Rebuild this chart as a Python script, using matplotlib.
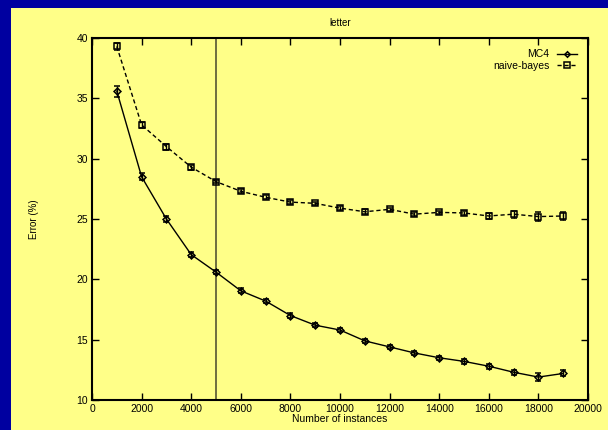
import numpy as np
import matplotlib
matplotlib.use("Agg")
import matplotlib.pyplot as plt
from matplotlib.patches import Rectangle

# data
sizes = [1000, 2000, 3000, 4000, 5000, 6000, 7000, 8000, 9000, 10000,
         11000, 12000, 13000, 14000, 15000, 16000, 17000, 18000, 19000]
mc4_err = [35.6, 28.5, 25.0, 22.05, 20.6, 19.05, 18.2, 17.0, 16.2, 15.8,
           14.9, 14.4, 13.9, 13.5, 13.2, 12.8, 12.3, 11.9, 12.2]
mc4_sd = [0.45, 0.3, 0.25, 0.2, 0.15, 0.2, 0.2, 0.2, 0.15, 0.15,
          0.15, 0.15, 0.15, 0.15, 0.2, 0.2, 0.2, 0.3, 0.25]
nb_err = [39.3, 32.8, 31.0, 29.3, 28.1, 27.3, 26.8, 26.4, 26.3, 25.9,
          25.6, 25.8, 25.4, 25.55, 25.5, 25.25, 25.4, 25.2, 25.25]
nb_sd = [0.3, 0.25, 0.25, 0.2, 0.15, 0.15, 0.15, 0.15, 0.15, 0.15,
         0.2, 0.15, 0.15, 0.15, 0.2, 0.25, 0.3, 0.35, 0.3]
cutoff = 5000

plt.rcParams['font.family'] = ['Liberation Sans', 'DejaVu Sans']

yellow = "#ffff88"
blue = "#0000a0"

fig = plt.figure(figsize=(6.08, 4.30), dpi=100, facecolor=blue)
fig.add_artist(Rectangle((11 / 608, 0), 1, 1 - 8 / 430, transform=fig.transFigure,
                         facecolor=yellow, edgecolor="none", zorder=-5))

ax = fig.add_axes([92 / 608, 1 - 400 / 430, 496 / 608, 362 / 430])
ax.set_facecolor(yellow)

ax.axvline(cutoff, color="#555533", lw=1.2, zorder=1)

mc4 = ax.errorbar(sizes, mc4_err, yerr=mc4_sd, color="black", lw=1.0, ls="-",
                  marker="D", ms=3.5, mfc="none", mew=1.1, capsize=2.5,
                  elinewidth=1.0, zorder=3)
nb = ax.errorbar(sizes, nb_err, yerr=nb_sd, color="black", lw=1.0, ls=(0, (3, 2)),
                 marker="s", ms=5, mfc="none", mew=1.1, capsize=2.5,
                 elinewidth=1.0, zorder=3)

ax.set_xlim(0, 20000)
ax.set_ylim(10, 40)
ax.set_xticks(np.arange(0, 20001, 2000))
ax.set_yticks(np.arange(10, 41, 5))
ax.tick_params(direction="in", top=True, right=True, length=5, width=1.0,
               labelsize=7.5, pad=3, colors="black")
for s in ax.spines.values():
    s.set_linewidth(1.5)

ax.set_title("letter", fontsize=7, pad=9)
ax.set_xlabel("Number of instances", fontsize=7.5, labelpad=0)
ax.set_ylabel("Error (%)", fontsize=7, labelpad=27)

ax.legend([mc4[0], nb[0]], ["MC4", "naive-bayes"], loc="upper right",
          frameon=False, markerfirst=False, fontsize=7.5, handlelength=1.9,
          handletextpad=0.7, labelspacing=0.15, borderaxespad=0.7,
          markerscale=0.8)

fig.savefig("out.png", dpi=100, facecolor=blue)
